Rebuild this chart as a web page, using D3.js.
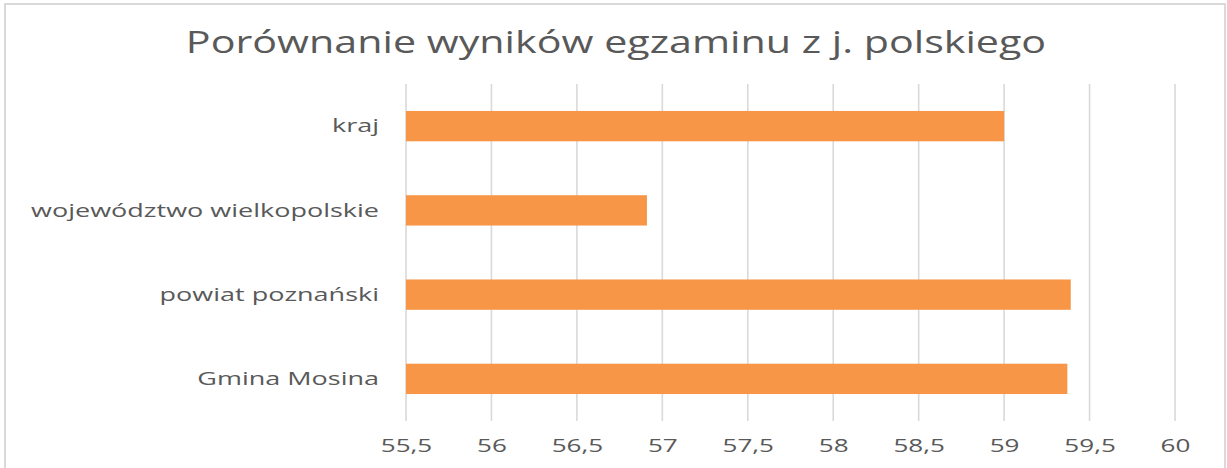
<!DOCTYPE html>
<html>
<head>
<meta charset="utf-8">
<script src="https://cdn.jsdelivr.net/npm/d3@7"></script>
<style>
  body { margin: 0; background: #fff; }
  svg { display: block; }
</style>
</head>
<body>
<div id="chart"></div>
<script>
// data
var categories = ["kraj", "województwo wielkopolskie", "powiat poznański", "Gmina Mosina"];
var values = [59.0, 56.91, 59.39, 59.37];
var ticks = [55.5, 56, 56.5, 57, 57.5, 58, 58.5, 59, 59.5, 60];
var title = "Porównanie wyników egzaminu z j. polskiego";

var width = 1227, height = 468;
var textColor = "#595959";
var font = "'Open Sans', sans-serif";

var svg = d3.select("#chart").append("svg")
  .attr("width", width).attr("height", height);

// chart frame
svg.append("rect")
  .attr("x", 5).attr("y", 4)
  .attr("width", 1220).attr("height", 480)
  .attr("fill", "#fff").attr("stroke", "#d9d9d9").attr("stroke-width", 2);

var x = d3.scaleLinear().domain([55.5, 60]).range([406, 1175]);
var y = d3.scaleBand().domain(categories).range([84, 421])
  .paddingInner(0.64).paddingOuter(0.32);

// gridlines
svg.append("g").selectAll("line").data(ticks).enter().append("line")
  .attr("x1", function (d) { return x(d); })
  .attr("x2", function (d) { return x(d); })
  .attr("y1", 84).attr("y2", 421)
  .attr("stroke", "#d9d9d9").attr("stroke-width", 1.6);

// bars
svg.append("g").selectAll("rect").data(values).enter().append("rect")
  .attr("x", x(55.5))
  .attr("y", function (d, i) { return y(categories[i]); })
  .attr("width", function (d) { return x(d) - x(55.5); })
  .attr("height", y.bandwidth())
  .attr("fill", "#f79646");

// x axis labels (picture is stretched sideways, so text is too)
var xAxis = svg.append("g")
  .attr("transform", "translate(0,421)")
  .call(d3.axisBottom(x).tickValues(ticks).tickSize(0).tickPadding(18)
    .tickFormat(function (d) { return String(d).replace(".", ","); }));
xAxis.select(".domain").remove();
xAxis.selectAll("text")
  .attr("font-family", font).attr("font-size", 18)
  .attr("fill", textColor)
  .attr("transform", "scale(1.45,1)");

// category labels
svg.append("g").selectAll("g").data(categories).enter().append("g")
  .attr("transform", function (d) { return "translate(379," + (y(d) + y.bandwidth() / 2) + ") scale(1.5,1)"; })
  .append("text")
  .attr("text-anchor", "end").attr("dy", "0.35em")
  .attr("font-family", font).attr("font-size", 18)
  .attr("fill", textColor)
  .text(function (d) { return d; });

// title
svg.append("g")
  .attr("transform", "translate(616,53) scale(1.33,1)")
  .append("text")
  .attr("text-anchor", "middle")
  .attr("font-family", font).attr("font-size", 31)
  .attr("fill", textColor)
  .text(title);
</script>
</body>
</html>
